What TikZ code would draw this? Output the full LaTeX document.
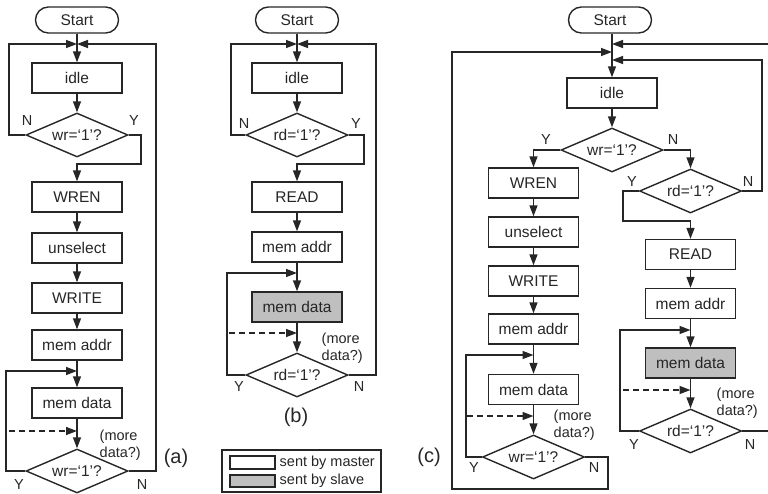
\documentclass[tikz,border=0pt]{standalone}
\usepackage{fontspec}
\setmainfont{Liberation Sans}
\usetikzlibrary{arrows.meta,shapes.geometric}
\begin{document}
\begin{tikzpicture}[x=1pt,y=-1pt,
  line width=1.4pt, color=black!85,
  box/.style={draw, rectangle, minimum width=90pt, minimum height=30pt, inner sep=0pt, font=\fontsize{15.5}{18}\selectfont},
  slave/.style={box, fill=gray!50},
  dec/.style={draw, diamond, minimum width=102pt, minimum height=44pt, aspect=2.32, inner sep=0pt, font=\fontsize{15.5}{18}\selectfont},
  term/.style={draw, rectangle, rounded corners=12.9pt, minimum width=83pt, minimum height=26pt, inner sep=0pt, font=\fontsize{15.5}{18}\selectfont},
  lbl/.style={inner sep=0pt, font=\fontsize{14.5}{17}\selectfont},
  more/.style={lbl, align=left, anchor=west},
  plabel/.style={inner sep=0pt, font=\fontsize{20}{24}\selectfont},
  arr/.style={-{Triangle[length=11pt,width=8pt]}},
  dsh/.style={dash pattern=on 6pt off 4pt}
]
\useasboundingbox (0,0) rectangle (768,493);
\clip (0,0) rectangle (768,493);

% ---------------- panel (a) ----------------
\node[term] (sa) at (77,20) {Start};
\node[box] (ia) at (77,78) {idle};
\node[dec] (da1) at (77,135) {wr=‘1’?};
\node[box] (wa) at (77,197) {WREN};
\node[box] (ua) at (77,248) {unselect};
\node[box] (wra) at (77,298) {WRITE};
\node[box] (maa) at (77,345) {mem addr};
\node[box] (mda) at (77,403) {mem data};
\node[dec] (da2) at (77,471) {wr=‘1’?};
\coordinate (ja) at (77,44);
\coordinate (la) at (77,371);
\coordinate (dsa) at (77,431);
\coordinate (dsa0) at (9,431);

\draw[arr] (sa) -- (ia);
\draw[arr] (ia) -- (da1);
\draw[arr] (da1.east) -- (141,135) -- (141,164) -| (wa);
\draw[arr] (da1.west) -- (9,135) |- (ja);
\draw[arr] (wa) -- (ua);
\draw[arr] (ua) -- (wra);
\draw[arr] (wra) -- (maa);
\draw[arr] (maa) -- (mda);
\draw[arr] (mda) -- (da2);
\draw[arr] (da2.west) -- (6,471) |- (la);
\draw[arr] (da2.east) -- (156,471) |- (ja);
\draw[arr,dsh] (dsa0) -- (dsa);

\node[lbl] at (27,121) {N};
\node[lbl] at (134,121) {Y};
\node[lbl] at (19,485) {Y};
\node[lbl] at (142,485) {N};
\node[more] at (99,445) {(more\\data?)};
\node[plabel] at (176,458) {(a)};

% ---------------- panel (b) ----------------
\node[term] (sb) at (297,20) {Start};
\node[box] (ib) at (297,78) {idle};
\node[dec] (db1) at (297,135) {rd=‘1’?};
\node[box] (rb) at (297,197) {READ};
\node[box] (mab) at (297,247) {mem addr};
\node[slave] (mdb) at (297,307) {mem data};
\node[dec] (db2) at (297,375) {rd=‘1’?};
\coordinate (jb) at (297,44);
\coordinate (lb) at (297,273);
\coordinate (dsb) at (297,333);
\coordinate (dsb0) at (229,333);

\draw[arr] (sb) -- (ib);
\draw[arr] (ib) -- (db1);
\draw[arr] (db1.east) -- (364,135) -- (364,164) -| (rb);
\draw[arr] (db1.west) -- (231,135) |- (jb);
\draw[arr] (rb) -- (mab);
\draw[arr] (mab) -- (mdb);
\draw[arr] (mdb) -- (db2);
\draw[arr] (db2.west) -- (227,375) |- (lb);
\draw[arr] (db2.east) -- (376,375) |- (jb);
\draw[arr,dsh] (dsb0) -- (dsb);

\node[lbl] at (244,124) {N};
\node[lbl] at (356,124) {Y};
\node[lbl] at (239,387) {Y};
\node[lbl] at (359,387) {N};
\node[more] at (321,348) {(more\\data?)};
\node[plabel] at (296,417) {(b)};

% legend
\node[draw, rectangle, minimum width=159pt, minimum height=42pt, inner sep=0pt] (leg) at (301.5,471) {};
\node[draw, rectangle, minimum width=45pt, minimum height=13pt, inner sep=0pt, fill=white] (sw1) at (252.5,462.5) {};
\node[draw, rectangle, minimum width=45pt, minimum height=12pt, inner sep=0pt, fill=gray!50] (sw2) at (252.5,481) {};
\node[lbl, anchor=west] (lt1) at (279,462.5) {sent by master};
\node[lbl, anchor=west] (lt2) at (279,481) {sent by slave};

% ---------------- panel (c) ----------------
\node[term] (sc) at (610,20) {Start};
\node[box] (ic) at (612,93) {idle};
\node[dec] (dc1) at (612,150) {wr=‘1’?};
\node[dec] (dc2) at (690.5,191) {rd=‘1’?};
\node[box] (wc) at (533.5,183) {WREN};
\node[box] (uc) at (533.5,232) {unselect};
\node[box] (wrc) at (533.5,281) {WRITE};
\node[box] (mac) at (533.5,329) {mem addr};
\node[box] (mdc) at (533.5,389.5) {mem data};
\node[dec] (dc3) at (533.5,457) {wr=‘1’?};
\node[box] (rc) at (690.5,254.5) {READ};
\node[box] (mac2) at (690.5,303.5) {mem addr};
\node[slave] (mdc2) at (690.5,363) {mem data};
\node[dec] (dc4) at (690.5,431) {rd=‘1’?};
\coordinate (jc1) at (612,44);
\coordinate (jc2) at (612,52);
\coordinate (jc3) at (612,60);
\coordinate (ec1) at (768,44);
\coordinate (ec2) at (768,431);
\coordinate (lc1) at (533.5,355);
\coordinate (lc2) at (690.5,330);
\coordinate (dsc1) at (533.5,416);
\coordinate (dsc10) at (467,416);
\coordinate (dsc2) at (690.5,390);
\coordinate (dsc20) at (623,390);

\draw[arr] (sc.south -| ic.north) -- (ic.north);
\draw[arr] (ic) -- (dc1);
\draw[arr] (dc1.west) -| (wc);
\draw[arr] (dc1.east) -| (dc2);
\draw[arr] (dc2.east) -- (762,191) |- (jc3);
\draw[arr] (dc2.west) -- (623,191) -- (623,221) -| (rc);
\draw[arr] (ec1) -- (jc1);
\draw[arr] (wc) -- (uc);
\draw[arr] (uc) -- (wrc);
\draw[arr] (wrc) -- (mac);
\draw[arr] (mac) -- (mdc);
\draw[arr] (mdc) -- (dc3);
\draw[arr] (dc3.west) -- (466,457) |- (lc1);
\draw[arr] (dc3.east) -- (608,457) -- (608,489) -- (452,489) |- (jc2);
\draw[arr,dsh] (dsc10) -- (dsc1);
\draw[arr] (rc) -- (mac2);
\draw[arr] (mac2) -- (mdc2);
\draw[arr] (mdc2) -- (dc4);
\draw[arr] (dc4.west) -- (620,431) |- (lc2);
\draw (dc4.east) -- (ec2);
\draw[arr,dsh] (dsc20) -- (dsc2);

\node[lbl] at (546,140) {Y};
\node[lbl] at (673,140) {N};
\node[lbl] at (632,182) {Y};
\node[lbl] at (748,182) {N};
\node[lbl] at (474,468) {Y};
\node[lbl] at (594,468) {N};
\node[lbl] at (634,445) {Y};
\node[lbl] at (750,445) {N};
\node[more] at (553,425.5) {(more\\data?)};
\node[more] at (716,403.5) {(more\\data?)};
\node[plabel] at (429,457) {(c)};
\end{tikzpicture}
\end{document}
